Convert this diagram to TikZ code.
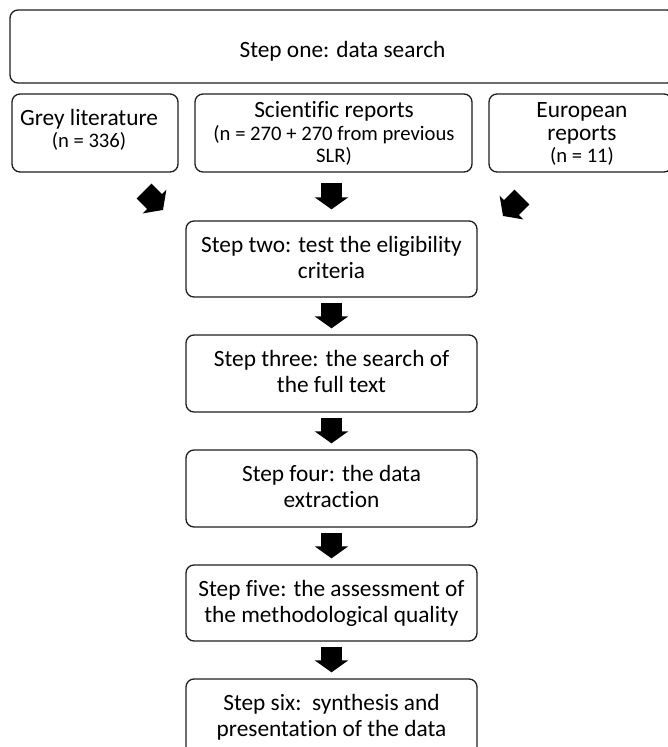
\documentclass[tikz,border=0pt]{standalone}
\usepackage{fontspec}
\setmainfont{Carlito}[Ligatures=CommonOff]
\usetikzlibrary{arrows.meta,fit}
\begin{document}
\begin{tikzpicture}[x=0.75pt,y=-0.75pt,
  box/.style={draw=black!88, line width=1pt, rounded corners=6pt, inner sep=0pt},
  big/.style={font=\fontsize{17.5}{19.5}\selectfont, inner sep=0pt, anchor=base},
  small/.style={font=\fontsize{15.5}{17.5}\selectfont, inner sep=0pt, anchor=base},
  blockarrow/.style={line width=15.75pt, draw=black, -{Triangle[width=24.75pt,length=9pt]}},
]
\useasboundingbox (0,0) rectangle (668,747);
\clip (0,0) rectangle (668,747);

% top row
\node[box, fit={(10,10)(675,83)}] (one) {};
\node[big] (onet) at (342.5,57) {Step one: data search};

\node[box, fit={(12,94)(178,172)}] (grey) {};
\node[big] (greyt) at (89,125) {Grey literature};
\node[small] (greyn) at (89,147) {(n = 336)};

\node[box, fit={(195,94)(472,172)}] (sci) {};
\node[big] (scit) at (334,117) {Scientific reports};
\node[small] (scin1) at (334,140) {(n = 270 + 270 from previous};
\node[small] (scin2) at (334,162) {SLR)};

\node[box, fit={(489,94)(672,172)}] (eur) {};
\node[big] (eurt1) at (582,117) {European};
\node[big] (eurt2) at (582,140) {reports};
\node[small] (eurn) at (582,162) {(n = 11)};

% steps
\node[box, fit={(186,221)(477,297)}] (two) {};
\node[big] (twoa) at (331.5,252) {Step two: test the eligibility};
\node[big] (twob) at (331.5,278) {criteria};
\node[box, fit={(186,335)(477,412)}] (three) {};
\node[big] (threea) at (331.5,366) {Step three: the search of};
\node[big] (threeb) at (331.5,392) {the full text};
\node[box, fit={(186,450)(477,527)}] (four) {};
\node[big] (foura) at (331.5,481) {Step four: the data};
\node[big] (fourb) at (331.5,507) {extraction};
\node[box, fit={(186,565)(477,641)}] (five) {};
\node[big] (fivea) at (331.5,596) {Step five: the assessment of};
\node[big] (fiveb) at (331.5,622) {the methodological quality};
\node[box, fit={(186,679)(477,756)}] (six) {};
\node[big] (sixa) at (331.5,710) {Step six:\ \ synthesis and};
\node[big] (sixb) at (331.5,736) {presentation of the data};

% arrows
\coordinate (gA) at (144,191);
\coordinate (gB) at (163,210);
\coordinate (eA) at (522,197);
\coordinate (eB) at (503,216);
\draw[blockarrow] (gA) -- (gB);
\draw[blockarrow] (eA) -- (eB);
\draw[blockarrow] ([yshift=-7.5pt]sci.south -| two.north) -- ([yshift=8.25pt]two.north);
\draw[blockarrow] ([yshift=-3.75pt]two.south) -- ([yshift=4.5pt]three.north);
\draw[blockarrow] ([yshift=-3.75pt]three.south) -- ([yshift=4.5pt]four.north);
\draw[blockarrow] ([yshift=-3.75pt]four.south) -- ([yshift=4.5pt]five.north);
\draw[blockarrow] ([yshift=-3.75pt]five.south) -- ([yshift=4.5pt]six.north);
\end{tikzpicture}
\end{document}
